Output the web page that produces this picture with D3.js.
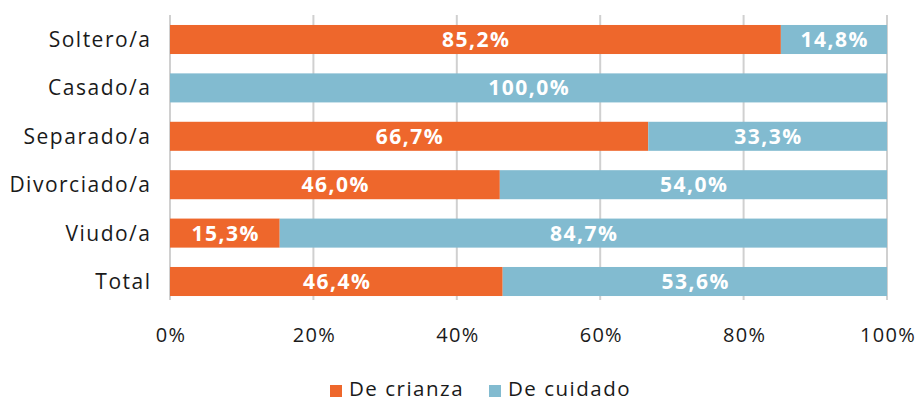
<!DOCTYPE html>
<html><head><meta charset="utf-8">
<script src="https://cdn.jsdelivr.net/npm/d3@7"></script>
<style>body{margin:0;background:#fff}svg{display:block}text{font-family:"Open Sans",Lato,sans-serif}</style>
</head><body>
<svg id="c" width="919" height="402"></svg>
<script>
const categories = ["Soltero/a","Casado/a","Separado/a","Divorciado/a","Viudo/a","Total"];
const seriesNames = ["De crianza","De cuidado"];
const crianza = [85.2, 0, 66.7, 46.0, 15.3, 46.4];
const cuidado = [14.8, 100.0, 33.3, 54.0, 84.7, 53.6];
const tickValues = [0,20,40,60,80,100];
const colors = ["#EE672C","#82BBD0"];

const svg = d3.select("#c");
const x = d3.scaleLinear().domain([0,100]).range([170,887]);
const y = d3.scaleBand().domain(categories).range([15.3,305.7]).paddingInner(0.4).paddingOuter(0.2);

// gridlines
svg.append("g").selectAll("line").data(tickValues).join("line")
  .attr("x1",d=>x(d)).attr("x2",d=>x(d)).attr("y1",15).attr("y2",300)
  .attr("stroke","#D0D0D0").attr("stroke-width",2);

const rows = categories.map((c,i)=>({cat:c, vals:[crianza[i],cuidado[i]]}));
const fmt = v => v.toFixed(1).replace(".",",")+"%";

const dls = 1.5;
rows.forEach(r=>{
  let acc=0;
  r.vals.forEach((v,j)=>{
    if(v<=0){return;}
    const x0=x(acc), x1=x(acc+v);
    svg.append("rect").attr("x",x0).attr("y",y(r.cat)).attr("width",x1-x0).attr("height",y.bandwidth())
      .attr("fill",colors[j]);
    svg.append("text").attr("x",(x0+x1)/2+dls/2).attr("y",y(r.cat)+y.bandwidth()/2).attr("dy","0.36em")
      .attr("text-anchor","middle").attr("fill","#fff").attr("font-weight","bold").attr("font-size",21)
      .attr("letter-spacing",dls).text(fmt(v));
    acc+=v;
  });
});

// category labels
const cls = 1.5;
svg.append("g").selectAll("text").data(categories).join("text")
  .attr("x",150+cls).attr("y",d=>y(d)+y.bandwidth()/2).attr("dy","0.36em")
  .attr("text-anchor","end").attr("font-size",21).attr("letter-spacing",cls).attr("fill","#1a1a1a").text(d=>d);

// x tick labels
const xAxis = d3.axisBottom(x).tickValues(tickValues).tickFormat(d=>d+"%").tickSize(0).tickPadding(0);
const gx = svg.append("g").attr("transform","translate(0.6,328)").call(xAxis);
gx.select(".domain").remove();
gx.selectAll("text").attr("font-size",20).attr("letter-spacing",1.3).attr("fill","#1a1a1a").attr("font-family","'Open Sans',Lato,sans-serif");

// legend
const legX=[330,489];
seriesNames.forEach((n,i)=>{
  svg.append("rect").attr("x",legX[i]).attr("y",385).attr("width",12).attr("height",12).attr("fill",colors[i]);
  svg.append("text").attr("x",legX[i]+19).attr("y",396).attr("font-size",20.5).attr("letter-spacing",1.5).attr("fill","#1a1a1a").text(n);
});
</script>
</body></html>
